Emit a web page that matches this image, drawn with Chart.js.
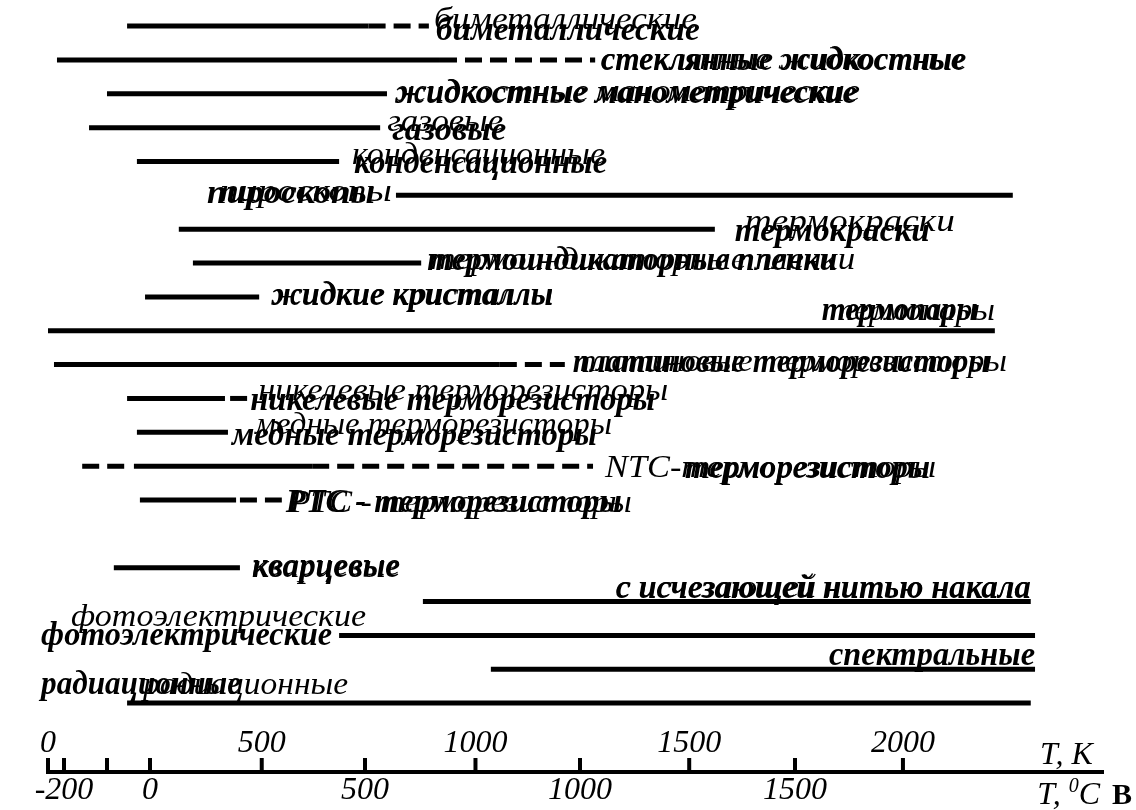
<!DOCTYPE html>
<html><head><meta charset="utf-8">
<script src="https://cdn.jsdelivr.net/npm/chart.js@4"></script>
<style>html,body{margin:0;padding:0;background:#fff}#wrap{width:1136px;height:810px;position:relative}</style>
</head><body><div id="wrap"><canvas id="c"></canvas></div>
<script>
// ---- DATA (temperatures in K) ----
const categories = [
  'биметаллические','стеклянные жидкостные','жидкостные манометрические','газовые',
  'конденсационные','пироскопы','термокраски','термоиндикаторные пленки','жидкие кристаллы',
  'термопары','платиновые терморезисторы','никелевые терморезисторы','медные терморезисторы',
  'NTC-терморезисторы','PTC - терморезисторы','','кварцевые','с исчезающей нитью накала',
  'фотоэлектрические','спектральные','радиационные'
];
const boldTextOverride = {13: 'терморезисторы'};
const solidFrom = [185, 21, 138, 96, 208, 814, 306, 339, 227, 0, 14, 185, 208, 201, 215, null, 154, 877, 681, 1036, 185];
const solidTo   = [750, 917, 793, 777, 681, 2257, 1560, 873, 494, 2215, 1057, 414, 421, 618, 440, null, 449, 2299, 2309, 2309, 2299];
const dashedRow  = [0, 1, 10, 11, 13, 13, 14];
const dashedFrom = [750, 917, 1057, 426, 80, 618, 449];
const dashedTo   = [891, 1280, 1209, 466, 190, 1275, 547];
const kelvinTicks = [0, 500, 1000, 1500, 2000];
const celsiusTicks = [-200, -100, 0, 500, 1000, 1500];
const celsiusTickLabels = ['-200', '', '0', '500', '1000', '1500'];

// ---- label layout (style): anchor, regular [dx,dy,width], bold [dx,dy,width] ----
const labelAnchor = ['end','end','end','end','end','start','end','end','end','end','end','end','end','end','end',null,'end','end','start','end','start'];
const labelRegular = [
  [5,3,263],[5,9,365],[8,7,465],[7,3,116],[13,3,253],[-176,6,172],[30,2,210],[9,6,425],[12,7,282],
  [-165,-11,165],[15,6,427],[11,2,410],[27,2,357],[12,11,331],[8,12,342],null,[12,7,148],[-415,-5,415],
  [-268,-9,295],null,[16,-9,205]
];
const labelBold = [
  [7,14,264],[6,10,365],[8,9,462],[12,12,114],[15,12,253],[-189,8,168],[20,12,195],[6,7,410],[12,8,282],
  [-173,-11,156],[8,7,417],[3,12,405],[4,13,365],[92,12,245],[4,12,336],null,[12,9,148],[-415,-4,415],
  [-298,10,291],[-206,-4,206],[-86,-9,200]
];

const datasets = [];
categories.forEach((c, i) => {
  if (solidFrom[i] == null) return;
  datasets.push({data: [{x: solidFrom[i], y: i}, {x: solidTo[i], y: i}], borderDash: []});
});
dashedRow.forEach((r, k) => {
  datasets.push({data: [{x: dashedFrom[k], y: r}, {x: dashedTo[k], y: r}], borderDash: [17, 8]});
});
datasets.forEach(d => Object.assign(d, {
  showLine: true, borderColor: '#000', borderWidth: 5, pointRadius: 0, borderCapStyle: 'butt', fill: false
}));

function rowExtent(i) {
  let lo = solidFrom[i] != null ? solidFrom[i] : Infinity;
  let hi = solidTo[i] != null ? solidTo[i] : -Infinity;
  dashedRow.forEach((r, k) => { if (r === i) { lo = Math.min(lo, dashedFrom[k]); hi = Math.max(hi, dashedTo[k]); } });
  return [lo, hi];
}

function drawScaled(ctx, text, font, left, base, width) {
  ctx.font = font;
  const m = ctx.measureText(text).width;
  ctx.save();
  ctx.translate(left, base);
  ctx.scale(width / m, 1);
  ctx.textAlign = 'left';
  ctx.textBaseline = 'alphabetic';
  ctx.fillText(text, 0, 0);
  ctx.restore();
}

const REG = 'italic 32px "Liberation Serif"';
const BOLD = 'italic bold 33px "Liberation Serif"';
const AXF = 'italic 32px "Liberation Serif"';

const overlay = {
  id: 'overlay',
  afterDraw(chart) {
    const {ctx, scales} = chart;
    const x = scales.x, xc = scales.xc, y = scales.y;
    const axisY = xc.top;
    ctx.save();
    ctx.fillStyle = '#000';
    ctx.strokeStyle = '#000';
    ctx.lineWidth = 4;
    ctx.lineCap = 'butt';
    const tickPx = kelvinTicks.map(v => x.getPixelForValue(v)).concat(celsiusTicks.map(v => xc.getPixelForValue(v)));
    tickPx.forEach(px => { ctx.beginPath(); ctx.moveTo(px, axisY); ctx.lineTo(px, axisY - 14); ctx.stroke(); });
    ctx.font = AXF;
    ctx.textAlign = 'center';
    ctx.textBaseline = 'alphabetic';
    kelvinTicks.forEach(v => ctx.fillText(String(v), x.getPixelForValue(v), axisY - 20));
    // axis titles
    ctx.textAlign = 'left';
    ctx.font = AXF;
    ctx.fillText('T, K', 1040, axisY - 8);
    const b2 = axisY + 32;
    const wT = ctx.measureText('T, ').width;
    ctx.font = 'italic 20px "Liberation Serif"';
    const w0 = ctx.measureText('0').width;
    ctx.font = AXF;
    const wC = ctx.measureText('C').width;
    const lx = 1100 - (wT + w0 + wC);
    ctx.fillText('T, ', lx, b2);
    ctx.font = 'italic 20px "Liberation Serif"';
    ctx.fillText('0', lx + wT, b2 - 12);
    ctx.font = AXF;
    ctx.fillText('C', lx + wT + w0, b2);
    ctx.font = 'bold 30px "Liberation Serif"';
    ctx.fillText('В', 1112, b2);
    // row labels
    categories.forEach((name, i) => {
      if (!labelAnchor[i]) return;
      const yp = y.getPixelForValue(i);
      const [lo, hi] = rowExtent(i);
      const ax = labelAnchor[i] === 'end' ? x.getPixelForValue(hi) : x.getPixelForValue(lo);
      const r = labelRegular[i];
      if (r) drawScaled(ctx, name, REG, ax + r[0], yp + r[1], r[2]);
      const b = labelBold[i];
      if (b) drawScaled(ctx, boldTextOverride[i] || name, BOLD, ax + b[0], yp + b[1], b[2]);
    });
    ctx.restore();
  }
};

new Chart(document.getElementById('c'), {
  type: 'scatter',
  data: {datasets},
  options: {
    responsive: true,
    maintainAspectRatio: false,
    animation: false,
    events: [],
    layout: {padding: {left: 48, right: 33, top: 0, bottom: 0}},
    plugins: {legend: {display: false}, tooltip: {enabled: false}},
    scales: {
      x: {type: 'linear', min: 0, max: 2468, display: false},
      y: {type: 'linear', min: -0.771, max: 22.036, reverse: true, display: false},
      xc: {
        type: 'linear', position: 'bottom', min: -237.2, max: 2216.3,
        afterBuildTicks: s => { s.ticks = celsiusTicks.map(v => ({value: v})); },
        grid: {display: false, drawTicks: false},
        border: {display: true, width: 4, color: '#000'},
        ticks: {
          autoSkip: false, maxRotation: 0, minRotation: 0, padding: 0.6, color: '#000',
          font: {family: 'Liberation Serif', style: 'italic', size: 32, lineHeight: 1.15},
          callback: (v) => { const k = celsiusTicks.indexOf(v); return k >= 0 ? celsiusTickLabels[k] : ''; }
        }
      }
    }
  },
  plugins: [overlay]
});
</script></body></html>
